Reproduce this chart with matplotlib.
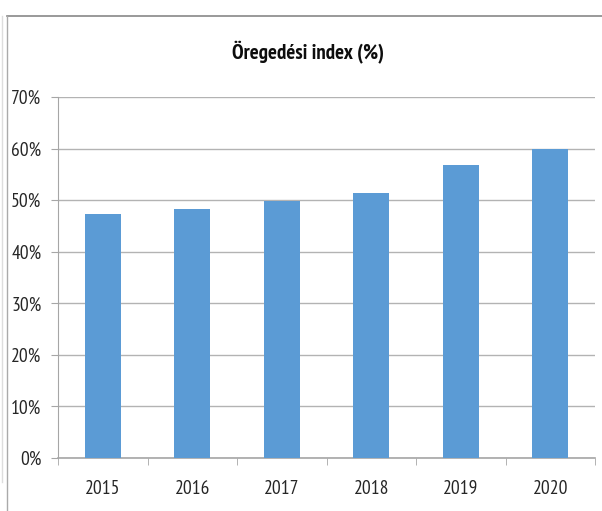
import matplotlib
matplotlib.use("Agg")
import matplotlib.pyplot as plt
from matplotlib.lines import Line2D
from matplotlib.ticker import FuncFormatter, FixedLocator

years = ["2015", "2016", "2017", "2018", "2019", "2020"]
values = [47.4, 48.3, 49.8, 51.3, 56.8, 60.0]
yticks = [0, 10, 20, 30, 40, 50, 60, 70]
title = "Öregedési index (%)"

plt.rcParams['font.family'] = ['PT Sans Narrow', 'DejaVu Sans']

fig = plt.figure(figsize=(6.02, 5.11), dpi=100)
ax = fig.add_axes([58/602, 1-458/511, (595-58)/602, (458-97)/511])

x = list(range(len(years)))
ax.bar(x, values, width=0.4, color="#5B9BD5", zorder=3)
ax.set_xlim(-0.5, len(years)-0.5)
ax.set_ylim(0, 70)
ax.set_yticks(yticks)
ax.yaxis.set_major_formatter(FuncFormatter(lambda v, p: f"{int(v)}%"))
ax.set_xticks(x)
ax.set_xticklabels(years)
ax.xaxis.set_minor_locator(FixedLocator([i - 0.5 for i in range(len(years)+1)]))
ax.tick_params(axis='x', which='major', length=0, pad=16, labelsize=14, colors='#262626')
ax.tick_params(axis='x', which='minor', length=5, color='#a6a6a6', direction='out')
ax.tick_params(axis='y', length=5, color='#a6a6a6', labelsize=14, labelcolor='#262626', pad=7)
ax.grid(axis='y', color='#b3b3b3', linewidth=1.0, zorder=0)
for s in ['top', 'right']:
    ax.spines[s].set_visible(False)
ax.spines['left'].set_color('#a6a6a6')
ax.spines['bottom'].set_color('#a6a6a6')
ax.spines['bottom'].set_linewidth(1.2)

fig.text(308/602, 1-52/511, title, ha='center', va='center', fontsize=15, fontweight='bold', color='#0d0d0d')

# chart frame lines
fig.add_artist(Line2D([7/602, 1.0], [1-16/511, 1-16/511], color='#888888', linewidth=1.2, transform=fig.transFigure))
fig.add_artist(Line2D([7/602, 7/602], [0, 1-16/511], color='#aaaaaa', linewidth=1.0, transform=fig.transFigure))
fig.add_artist(Line2D([2/602, 2/602], [1-482/511, 1-16/511], color='#dddddd', linewidth=1.0, transform=fig.transFigure))

fig.savefig("out.png", dpi=100)
